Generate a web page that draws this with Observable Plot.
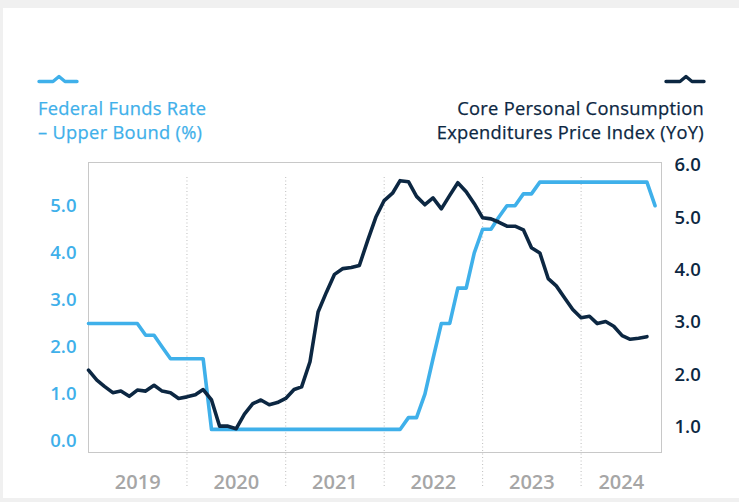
<!DOCTYPE html>
<html>
<head>
<meta charset="utf-8">
<script src="https://cdn.jsdelivr.net/npm/d3@7"></script>
<script src="https://cdn.jsdelivr.net/npm/@observablehq/plot@0.6"></script>
<style>
  html, body { margin: 0; padding: 0; background: #f0f0f0; }
  #page { position: relative; width: 739px; height: 502px; overflow: hidden; }
  #card { position: absolute; left: 3px; top: 8px; right: 0; height: 490px; background: #fff; }
  .leg { position: absolute; font-family: 'Open Sans', sans-serif; font-weight: 400; font-size: 18.3px; line-height: 24px; white-space: nowrap; letter-spacing: 0.3px; -webkit-text-stroke: 0.25px currentColor; }
  #legL { left: 38px; top: 96px; color: #3fb0ea; }
  #legR { right: 35px; top: 96px; color: #0c2742; text-align: right; }
  #markers { position: absolute; left: 0; top: 0; }
  #chart { position: absolute; left: 0; top: 150px; }
</style>
</head>
<body>
<div id="page">
  <div id="card"></div>
  <svg id="markers" width="739" height="100">
    <path d="M39,81.5 H53 L59,76.5 L65,81.5 H77" fill="none" stroke="#3fb0ea" stroke-width="3.4" stroke-linecap="round" stroke-linejoin="round"/>
    <path d="M666,81.5 H680 L686,76.5 L692,81.5 H704" fill="none" stroke="#0c2742" stroke-width="3.4" stroke-linecap="round" stroke-linejoin="round"/>
  </svg>
  <div class="leg" id="legL">Federal Funds Rate<br>– Upper Bound (%)</div>
  <div class="leg" id="legR">Core Personal Consumption<br>Expenditures Price Index (YoY)</div>
  <div id="chart"></div>
</div>
<script>
// ---- Data (monthly, starting January 2019) ----
const seriesStart = [2019, 0]; // year, month index
const fedFundsUpper = [
  2.5, 2.5, 2.5, 2.5, 2.5, 2.5, 2.5, 2.25, 2.25, 2.0, 1.75, 1.75,        // 2019
  1.75, 1.75, 1.75, 0.25, 0.25, 0.25, 0.25, 0.25, 0.25, 0.25, 0.25, 0.25, // 2020
  0.25, 0.25, 0.25, 0.25, 0.25, 0.25, 0.25, 0.25, 0.25, 0.25, 0.25, 0.25, // 2021
  0.25, 0.25, 0.25, 0.5, 0.5, 1.0, 1.75, 2.5, 2.5, 3.25, 3.25, 4.0,       // 2022
  4.5, 4.5, 4.75, 5.0, 5.0, 5.25, 5.25, 5.5, 5.5, 5.5, 5.5, 5.5,          // 2023
  5.5, 5.5, 5.5, 5.5, 5.5, 5.5, 5.5, 5.5, 5.5, 5.0                        // 2024 (Jan-Oct)
];
const corePceYoY = [
  2.09, 1.90, 1.78, 1.66, 1.69, 1.59, 1.71, 1.69, 1.80, 1.69, 1.66, 1.55, // 2019
  1.58, 1.62, 1.72, 1.52, 1.02, 1.02, 0.97, 1.25, 1.45, 1.52, 1.43, 1.47, // 2020
  1.55, 1.72, 1.77, 2.25, 3.20, 3.58, 3.92, 4.03, 4.05, 4.09, 4.57, 5.01, // 2021
  5.33, 5.47, 5.71, 5.69, 5.41, 5.25, 5.38, 5.17, 5.43, 5.67, 5.50, 5.27, // 2022
  5.00, 4.98, 4.92, 4.84, 4.84, 4.77, 4.43, 4.33, 3.84, 3.70, 3.47, 3.25, // 2023
  3.09, 3.12, 2.98, 3.02, 2.93, 2.75, 2.68, 2.70, 2.73                    // 2024 (Jan-Sep)
];
const years = [2019, 2020, 2021, 2022, 2023, 2024];
const leftTicks = [0, 1, 2, 3, 4, 5];
const rightTicks = [1, 2, 3, 4, 5, 6];

// ---- Scales / layout ----
const blue = "#3fb0ea", navy = "#0c2742";
const leftDomain = [-0.240, 5.917];
const rightDomain = [0.517, 6.057];
const xDomain = [new Date(Date.UTC(2019, 0, 1)), new Date(Date.UTC(2024, 9, 25))];
const toLeft = d3.scaleLinear().domain(rightDomain).range(leftDomain);

const monthDate = i => new Date(Date.UTC(seriesStart[0], seriesStart[1] + i, 1));
const fedData = fedFundsUpper.map((v, i) => ({date: monthDate(i), value: v}));
const pceData = corePceYoY.map((v, i) => ({date: monthDate(i), value: toLeft(v)}));

const yearStarts = years.map(y => new Date(Date.UTC(y, 0, 1)));
const yearMids = years.map(y => {
  const a = +new Date(Date.UTC(y, 0, 1));
  const b = Math.min(+new Date(Date.UTC(y + 1, 0, 1)), +xDomain[1]);
  return new Date((a + b) / 2);
});

const chart = Plot.plot({
  width: 739,
  height: 345,
  marginLeft: 88,
  marginRight: 78,
  marginTop: 12,
  marginBottom: 43,
  style: {fontFamily: "'Open Sans', sans-serif", fontWeight: 600, overflow: "visible", background: "transparent"},
  x: {type: "utc", domain: xDomain},
  y: {domain: leftDomain},
  marks: [
    Plot.ruleX(yearStarts.slice(1), {stroke: "#bdbdbd", strokeWidth: 1, strokeDasharray: "1,2.5", insetTop: 15, insetBottom: -36}),
    Plot.frame({stroke: "#c8c8c8", strokeWidth: 1}),
    Plot.axisX(yearMids, {anchor: "bottom", tickSize: 0, tickPadding: 22, tickFormat: d3.utcFormat("%Y"), color: "#a6a6a6", fontSize: 20, label: null}),
    Plot.axisY(leftTicks, {anchor: "left", tickSize: 0, tickPadding: 12, tickFormat: d => d.toFixed(1), color: blue, fontSize: 18.5, label: null}),
    Plot.axisY(rightTicks.map(toLeft), {anchor: "right", tickSize: 0, tickPadding: 13, tickFormat: u => toLeft.invert(u).toFixed(1), color: navy, fontSize: 18.5, label: null}),
    Plot.lineY(fedData, {x: "date", y: "value", stroke: blue, strokeWidth: 3.6, strokeLinejoin: "round"}),
    Plot.lineY(pceData, {x: "date", y: "value", stroke: navy, strokeWidth: 3.6, strokeLinejoin: "round"})
  ]
});
document.getElementById("chart").appendChild(chart);
</script>
</body>
</html>
